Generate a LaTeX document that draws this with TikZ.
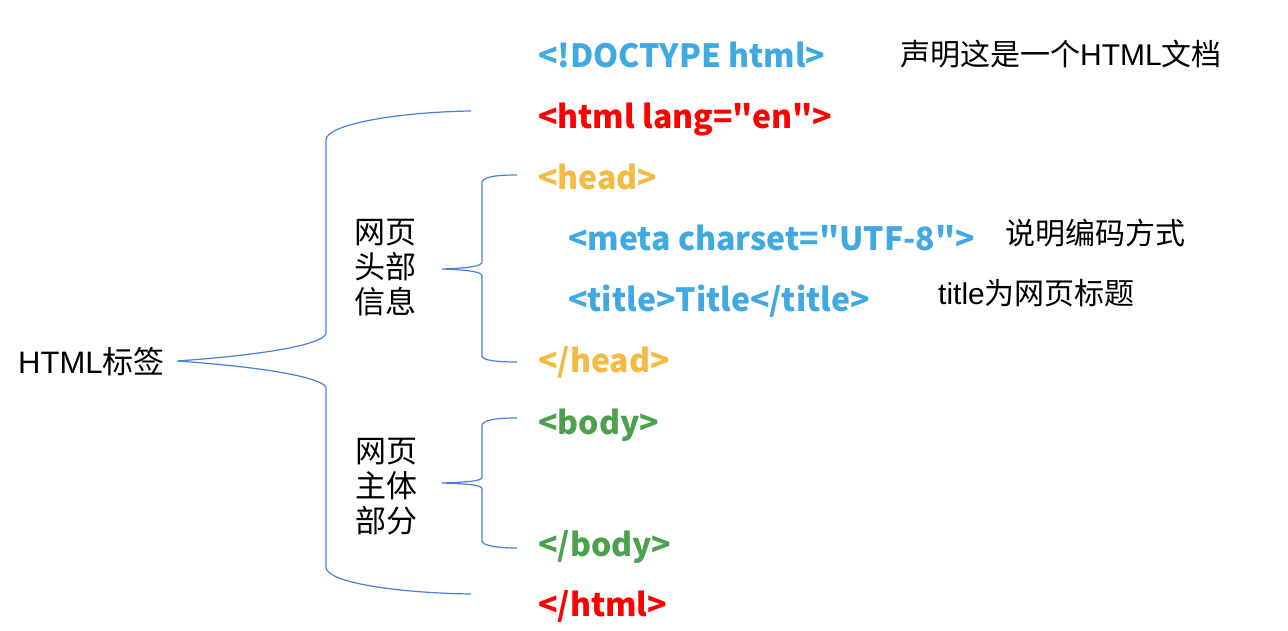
\documentclass[tikz,border=0pt]{standalone}
\usepackage{fontspec}
\usepackage{tikz}
\usetikzlibrary{positioning, calc}
\setmainfont{Liberation Sans}
\newfontfamily\cjkfont{Noto Sans CJK SC}
\newfontfamily\codefont{Noto Sans CJK SC}
\newcommand{\zh}[1]{{\cjkfont #1}}
\definecolor{bracecol}{RGB}{74, 126, 222}
\definecolor{tagblue}{RGB}{65, 169, 226}
\definecolor{tagred}{RGB}{255, 0, 0}
\definecolor{tagorange}{RGB}{245, 186, 66}
\definecolor{taggreen}{RGB}{76, 160, 78}
\tikzstyle{code} = [anchor=base west, inner sep=0pt, font=\codefont\bfseries\fontsize{32}{38}\selectfont]
\tikzstyle{note} = [anchor=base west, inner sep=0pt, font=\fontsize{30}{36}\selectfont]
\tikzstyle{part} = [align=center, inner sep=0pt, font=\cjkfont\fontsize{31}{35}\selectfont]
\tikzstyle{brace} = [draw=bracecol, line width=1.2pt]

\begin{document}
\begin{tikzpicture}[x=1pt, y=-1pt]
    \useasboundingbox (0,0) rectangle (1288,630);

    % Tags
    \node[code, tagblue] (doctype) at (538, 67) {<!DOCTYPE html>};
    \node[code, tagred] (htmlopen) at (538, 128) {<html lang="en">};
    \node[code, tagorange] (headopen) at (538, 189) {<head>};
    \node[code, tagblue] (meta) at (568, 250) {<meta charset="UTF-8">};
    \node[code, tagblue] (title) at (568, 311) {<title>Title</title>};
    \node[code, tagorange] (headclose) at (538, 372) {</head>};
    \node[code, taggreen] (bodyopen) at (538, 434) {<body>};
    \node[code, taggreen] (bodyclose) at (538, 556) {</body>};
    \node[code, tagred] (htmlclose) at (538, 616) {</html>};

    % Notes
    \node[note] (doctypenote) at (900, 65) {\zh{声明这是一个}HTML\zh{文档}};
    \node[note] (metanote) at (1005, 244) {\zh{说明编码方式}};
    \node[note] (titlenote) at (938, 304) {title\zh{为网页标题}};

    % Labels
    \node[note, font=\fontsize{31}{36}\selectfont] (root) at (18, 373) {HTML\zh{标签}};
    \node[part] (headpart) at (385, 268) {网页\\头部\\信息};
    \node[part] (bodypart) at (386, 487) {网页\\主体\\部分};

    % Braces
    \coordinate (bigtip) at (177, 361);
    \coordinate (bigtop) at (471, 111);
    \coordinate (bigbot) at (471, 594);
    \coordinate (headtip) at (442, 269);
    \coordinate (headtop) at (517, 175);
    \coordinate (headbot) at (517, 362);
    \coordinate (bodytip) at (442, 483);
    \coordinate (bodytop) at (517, 418);
    \coordinate (bodybot) at (517, 548);

    \draw[brace] (bigtop) .. controls (400, 112) and (326, 124) .. (326, 140) -- (326, 333)
        .. controls (326, 341) and (290, 353) .. (bigtip)
        .. controls (290, 369) and (326, 381) .. (326, 388) -- (326, 567)
        .. controls (326, 583) and (400, 593) .. (bigbot);
    \draw[brace] (headtop) .. controls (495, 175) and (482, 177) .. (482, 183) -- (482, 262)
        .. controls (482, 266) and (470, 268) .. (headtip)
        .. controls (470, 270) and (482, 272) .. (482, 276) -- (482, 356)
        .. controls (482, 360) and (495, 362) .. (headbot);
    \draw[brace] (bodytop) .. controls (495, 418) and (482, 420) .. (482, 426) -- (482, 477)
        .. controls (482, 481) and (470, 482) .. (bodytip)
        .. controls (470, 484) and (482, 485) .. (482, 489) -- (482, 541)
        .. controls (482, 545) and (495, 548) .. (bodybot);
\end{tikzpicture}
\end{document}
